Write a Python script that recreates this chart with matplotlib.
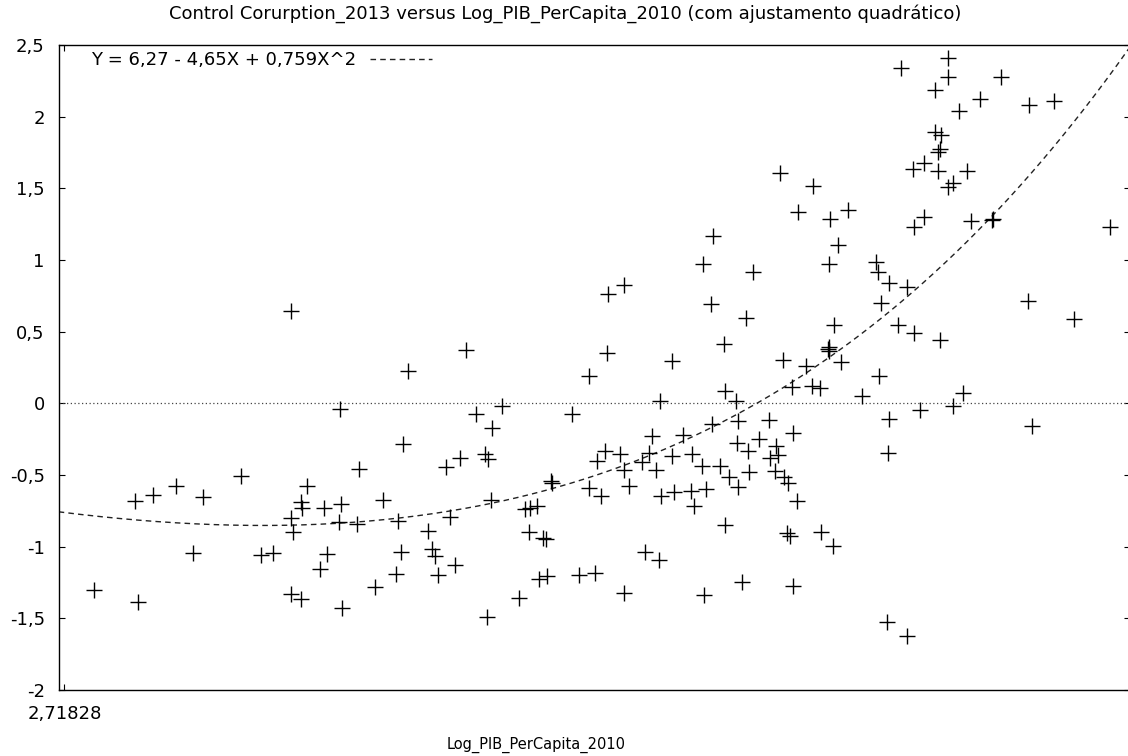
import numpy as np
import matplotlib.pyplot as plt
from matplotlib.ticker import NullLocator

# Log_PIB_PerCapita_2010 (x) e Control Corruption 2013 (y)
log_pib = [
    2.768, 2.836, 2.842, 2.867, 2.907, 2.937, 2.954, 3.023, 3.060, 3.082,
    3.115, 3.115, 3.116, 3.119, 3.135, 3.137, 3.135, 3.146, 3.170, 3.178,
    3.183, 3.207, 3.209, 3.211, 3.213, 3.242, 3.245, 3.276, 3.293, 3.318,
    3.323, 3.329, 3.332, 3.342, 3.382, 3.392, 3.397, 3.404, 3.420, 3.428,
    3.438, 3.449, 3.462, 3.483, 3.501, 3.505, 3.508, 3.513, 3.516, 3.538,
    3.573, 3.587, 3.594, 3.598, 3.613, 3.616, 3.626, 3.632, 3.635, 3.642,
    3.644, 3.688, 3.704, 3.726, 3.727, 3.741, 3.744, 3.755, 3.762, 3.767,
    3.770, 3.797, 3.807, 3.807, 3.807, 3.818, 3.847, 3.855, 3.865, 3.872,
    3.880, 3.888, 3.889, 3.893, 3.917, 3.918, 3.922, 3.945, 3.962, 3.966,
    3.969, 3.989, 3.991, 3.994, 3.998, 4.011, 4.013, 4.016, 4.032, 4.043,
    4.044, 4.045, 4.054, 4.072, 4.075, 4.077, 4.077, 4.086, 4.096, 4.100,
    4.104, 4.113, 4.129, 4.154, 4.156, 4.167, 4.171, 4.177, 4.180, 4.188,
    4.190, 4.198, 4.201, 4.206, 4.212, 4.213, 4.214, 4.225, 4.227, 4.247,
    4.263, 4.265, 4.283, 4.285, 4.303, 4.307, 4.307, 4.307, 4.308, 4.316,
    4.320, 4.328, 4.337, 4.355, 4.391, 4.430, 4.434, 4.437, 4.442, 4.460,
    4.462, 4.463, 4.464, 4.487, 4.496, 4.512, 4.512, 4.530, 4.532, 4.532,
    4.547, 4.558, 4.558, 4.588, 4.590, 4.599, 4.599, 4.602, 4.604, 4.606,
    4.626, 4.626, 4.626, 4.639, 4.640, 4.656, 4.667, 4.679, 4.690, 4.714,
    4.749, 4.753, 4.774, 4.854, 4.856, 4.865, 4.930, 4.991, 5.099,
]
control_corruption = [
    -1.300, -0.682, -1.386, -0.642, -0.575, -1.042, -0.652, -0.507, -1.058, -1.047,
    -0.800, -1.330, 0.644, -0.900, -0.689, -0.730, -1.365, -0.579, -1.154, -0.728,
    -1.051, -0.826, -0.042, -0.703, -1.428, -0.844, -0.456, -1.284, -0.677, -1.193,
    -0.821, -1.040, -0.284, 0.227, -0.891, -1.014, -1.065, -1.196, -0.442, -0.791,
    -1.128, -0.382, 0.372, -0.077, -0.352, -1.489, -0.389, -0.677, -0.170, -0.019,
    -1.356, -0.737, -0.900, -0.733, -0.717, -1.228, -0.938, -0.949, -1.203, -0.540,
    -0.558, -0.077, -1.198, -0.589, 0.190, -1.186, -0.403, -0.647, -0.333, 0.353,
    0.763, -0.356, 0.823, -0.465, -1.326, -0.577, -0.407, -1.035, -0.347, -0.226,
    -0.465, -1.093, 0.016, -0.645, -0.368, 0.297, -0.621, -0.219, -0.610, -0.352,
    -0.719, -0.437, 0.972, -1.337, -0.600, 0.693, -0.147, 1.167, -0.435, 0.412,
    -0.847, 0.088, -0.512, 0.018, -0.275, -0.123, -0.582, -1.249, 0.593, -0.335,
    -0.481, 0.916, -0.249, -0.117, -0.384, -0.474, -0.296, -0.361, 1.605, 0.302,
    -0.516, -0.903, -0.558, -0.926, 0.112, -1.273, -0.205, -0.682, 1.333, 0.260,
    0.123, 1.516, 0.105, -0.898, 0.379, 0.391, 0.367, 0.972, 1.284, -0.996,
    0.546, 1.104, 0.288, 1.349, 0.053, 0.988, 0.914, 0.188, 0.698, -1.524,
    -0.349, 0.841, -0.107, 0.548, 2.341, 0.814, -1.621, 1.638, 1.229, 0.493,
    -0.047, 1.674, 1.298, 2.186, 1.893, 1.755, 1.624, 0.440, 1.774, 1.871,
    2.411, 2.277, 1.506, 1.534, -0.016, 2.037, 0.073, 1.624, 1.273, 2.125,
    1.276, 1.284, 2.277, 0.717, 2.078, -0.157, 2.106, 0.585, 1.231,
]

# ajustamento quadratico: Y = b0 + b1*X + b2*X^2
coef = [6.27, -4.65, 0.759]
fit_label = 'Y = 6,27 - 4,65X + 0,759X^2'

y_ticks = [-2, -1.5, -1, -0.5, 0, 0.5, 1, 1.5, 2, 2.5]
x_min, x_max = 2.7091, 5.1605

fs = 13
fig = plt.figure(figsize=(11.28, 7.56), dpi=100)
ax = fig.add_axes([58.7 / 1128, 66 / 756, (1130 - 58.7) / 1128, 645 / 756])

ax.set_xscale('log', base=np.e)
ax.set_xlim(x_min, x_max)
ax.set_ylim(-2, 2.5)

ax.axhline(0, color='#444444', lw=0.9, ls=(0, (1, 2)))

xx = np.exp(np.linspace(np.log(x_min), np.log(x_max), 400))
yy = coef[0] + coef[1] * xx + coef[2] * xx ** 2
ax.plot(xx, yy, color='#222222', lw=1.0, ls=(0, (4, 3)), label=fit_label)

ax.plot(log_pib, control_corruption, ls='none', marker='+', color='black',
        ms=11, mew=1.0)

ax.set_xticks([np.e])
ax.set_xticklabels(['2,71828'])
ax.xaxis.set_minor_locator(NullLocator())
ax.set_yticks(y_ticks)
ax.set_yticklabels([f'{v:g}'.replace('.', ',') for v in y_ticks])

ax.tick_params(axis='both', which='major', direction='in', top=True, right=True,
               length=4.5, width=0.8, labelsize=fs, colors='black')
ax.tick_params(axis='x', pad=11)
ax.tick_params(axis='y', pad=10)
for sp in ax.spines.values():
    sp.set_linewidth(1.0)

leg = ax.legend(loc='upper left', bbox_to_anchor=(0.03, 0.99), frameon=False,
                markerfirst=False, handlelength=3.4, handletextpad=0.8,
                borderpad=0, borderaxespad=0, fontsize=fs)

fig.text(565 / 1128, 1 - 14 / 756,
         'Control Corurption_2013 versus Log_PIB_PerCapita_2010 (com ajustamento quadrático)',
         ha='center', va='center', fontsize=fs)
fig.text(536 / 1128, 1 - 745 / 756, 'Log_PIB_PerCapita_2010',
         ha='center', va='center', fontsize=10.5)

fig.savefig('out.png', dpi=100)
